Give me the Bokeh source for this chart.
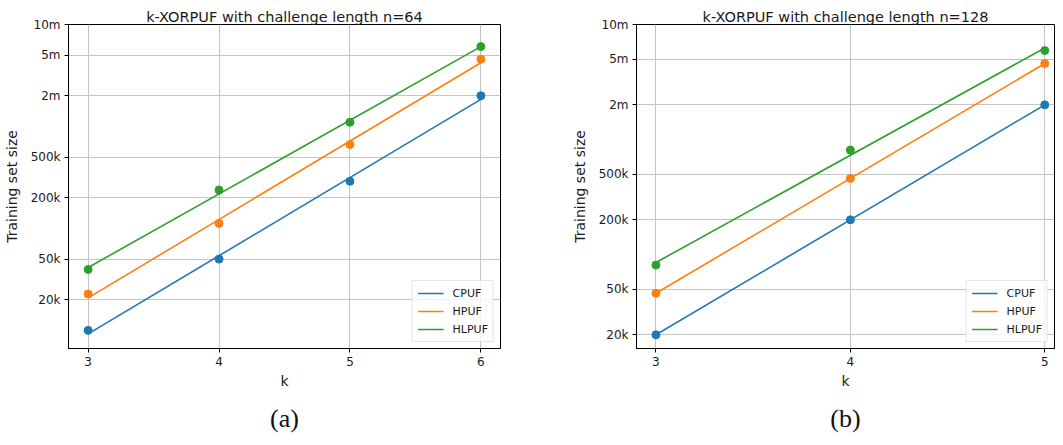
import numpy as np
from bokeh.plotting import figure
from bokeh.models import Range1d, FixedTicker, Title
from bokeh.layouts import row
from bokeh.embed import file_html
from bokeh.resources import INLINE

# ---- data ----
series_names = ["CPUF", "HPUF", "HLPUF"]
colors = ["#1f77b4", "#ff7f0e", "#2ca02c"]

k_64 = [3, 4, 5, 6]
cpuf_64 = [10000, 50000, 290000, 2000000]
hpuf_64 = [22700, 112000, 665000, 4570000]
hlpuf_64 = [39600, 238000, 1100000, 6070000]

k_128 = [3, 4, 5]
cpuf_128 = [20000, 200000, 2000000]
hpuf_128 = [46000, 458000, 4580000]
hlpuf_128 = [80800, 808000, 5940000]

y_ticks = [20000, 50000, 200000, 500000, 2000000, 5000000, 10000000]
y_tick_labels = ["20k", "50k", "200k", "500k", "2m", "5m", "10m"]

FONT = "DejaVu Sans"


def make(k, series, title, caption, x_range, y_range, frame_w, b_left, b_right, cap_offset):
    p = figure(frame_width=frame_w, frame_height=324, y_axis_type="log",
               x_range=Range1d(*x_range), y_range=Range1d(*y_range),
               output_backend="svg", toolbar_location=None,
               min_border_left=b_left, min_border_right=b_right,
               min_border_top=24, min_border_bottom=10,
               background_fill_color="white", border_fill_color="white")
    p.title.text = title
    p.title.text_font = FONT
    p.title.text_font_size = "14.5px"
    p.title.text_font_style = "normal"
    p.title.align = "center"
    p.title.standoff = 0
    p.title.text_color = "#1a1a1a"

    p.outline_line_color = "black"
    p.outline_line_width = 1
    p.outline_line_alpha = 1

    for ax in (p.xaxis[0], p.yaxis[0]):
        ax.major_tick_out = 4
        ax.major_tick_in = 0
        ax.minor_tick_out = 0
        ax.minor_tick_in = 0
        ax.axis_line_color = "black"
        ax.major_tick_line_color = "black"
        ax.major_label_text_font = FONT
        ax.major_label_text_font_size = "12px"
        ax.major_label_text_color = "#1a1a1a"
        ax.axis_label_text_font = FONT
        ax.axis_label_text_font_size = "14px"
        ax.axis_label_text_font_style = "normal"
        ax.axis_label_text_color = "#1a1a1a"
        ax.major_label_standoff = 4

    p.xaxis.ticker = FixedTicker(ticks=k)
    p.xaxis.axis_label = "k"
    p.xaxis.axis_label_standoff = 4
    p.yaxis.ticker = FixedTicker(ticks=y_ticks)
    p.yaxis.major_label_overrides = {t: l for t, l in zip(y_ticks, y_tick_labels)}
    p.yaxis.axis_label = "Training set size"
    p.yaxis.axis_label_standoff = 8

    p.xgrid.ticker = FixedTicker(ticks=k)
    p.ygrid.ticker = FixedTicker(ticks=y_ticks)
    for g in (p.xgrid[0], p.ygrid[0]):
        g.grid_line_color = "#c4c4c4"
        g.grid_line_width = 1

    for name, vals, c in zip(series_names, series, colors):
        coef = np.polyfit(k, np.log10(vals), 1)
        kk = [k[0], k[-1]]
        fit = [10 ** np.polyval(coef, x) for x in kk]
        p.line(kk, fit, line_color=c, line_width=1.6, legend_label=name)
        p.scatter(k, vals, size=8, fill_color=c, line_color=c)

    lg = p.legend[0]
    lg.location = "bottom_right"
    lg.label_text_font = FONT
    lg.label_text_font_size = "11px"
    lg.label_text_color = "#1a1a1a"
    lg.glyph_width = 26
    lg.glyph_height = 14
    lg.label_height = 14
    lg.label_standoff = 9
    lg.spacing = 4
    lg.padding = 5
    lg.margin = 6
    lg.border_line_color = "#cccccc"
    lg.border_line_width = 1
    lg.background_fill_alpha = 0.8

    cap = Title(text=caption, align="center", text_font="Liberation Serif",
                text_font_size="26px", text_font_style="normal",
                text_color="#111111", standoff=21, offset=cap_offset)
    p.add_layout(cap, "below")
    return p


p1 = make(k_64, [cpuf_64, hpuf_64, hlpuf_64],
          "k-XORPUF with challenge length n=64", "(a)",
          (2.85, 6.15), (6640, 10000000), 432, 61, 68, -8)
p2 = make(k_128, [cpuf_128, hpuf_128, hlpuf_128],
          "k-XORPUF with challenge length n=128", "(b)",
          (2.9, 5.05), (15200, 10000000), 418, 60, 2, 7)

layout = row(p1, p2)
open("out.html", "w").write(file_html(layout, INLINE))
